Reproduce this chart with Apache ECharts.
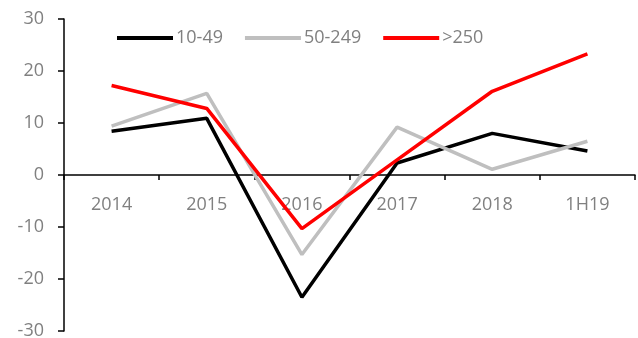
<!DOCTYPE html>
<html><head><meta charset="utf-8">
<script src="https://cdn.jsdelivr.net/npm/echarts@6/dist/echarts.min.js"></script>
<style>html,body{margin:0;padding:0;background:#fff}#c{width:638px;height:338px}</style>
</head><body><div id="c"></div>
<script>
const categories = ['2014', '2015', '2016', '2017', '2018', '1H19'];
const s10_49 = [8.4, 10.9, -23.5, 2.3, 8.0, 4.6];
const s50_249 = [9.4, 15.7, -15.3, 9.2, 1.1, 6.5];
const s250 = [17.2, 12.8, -10.3, 2.9, 16.1, 23.3];
const seriesNames = ['10-49', '50-249', '>250'];
const colors = ['#000000', '#BFBFBF', '#FF0000'];
const yTicks = { min: -30, max: 30, interval: 10 };

const font = 'Open Sans';
const chart = echarts.init(document.getElementById('c'), null, { renderer: 'canvas' });
const mk = (name, data, color) => ({
  name, type: 'line', data, symbol: 'none', smooth: false, z: 5,
  lineStyle: { color, width: 3.5 }, itemStyle: { color }
});
chart.setOption({
  animation: false,
  color: colors,
  grid: { left: 64, right: 3, top: 19, bottom: 7, containLabel: false, outerBoundsMode: 'none' },
  legend: {
    top: 29, left: 117, padding: 0, itemWidth: 56, itemHeight: 4, itemGap: 22,
    icon: 'rect',
    textStyle: { fontFamily: font, fontSize: 18, color: '#808080', padding: [0, 0, 0, -2] },
    data: seriesNames
  },
  xAxis: {
    type: 'category', data: categories, boundaryGap: true,
    position: 'bottom', offset: -156, z: 0,
    axisLine: { onZero: false, lineStyle: { color: '#000', width: 1.5 } },
    axisTick: { show: true, inside: false, length: 5, lineStyle: { color: '#000', width: 1.5 } },
    axisLabel: { fontFamily: font, fontSize: 18, color: '#808080', margin: 21 },
    splitLine: { show: false }
  },
  yAxis: {
    type: 'value', min: yTicks.min, max: yTicks.max, interval: yTicks.interval,
    axisLine: { show: true, lineStyle: { color: '#000', width: 1.5 } },
    axisTick: { show: true, length: 6, lineStyle: { color: '#000', width: 1.5 } },
    axisLabel: { fontFamily: font, fontSize: 18, color: '#808080', margin: 20 },
    splitLine: { show: false }
  },
  series: [mk(seriesNames[0], s10_49, colors[0]), mk(seriesNames[1], s50_249, colors[1]), mk(seriesNames[2], s250, colors[2])]
});
</script></body></html>
